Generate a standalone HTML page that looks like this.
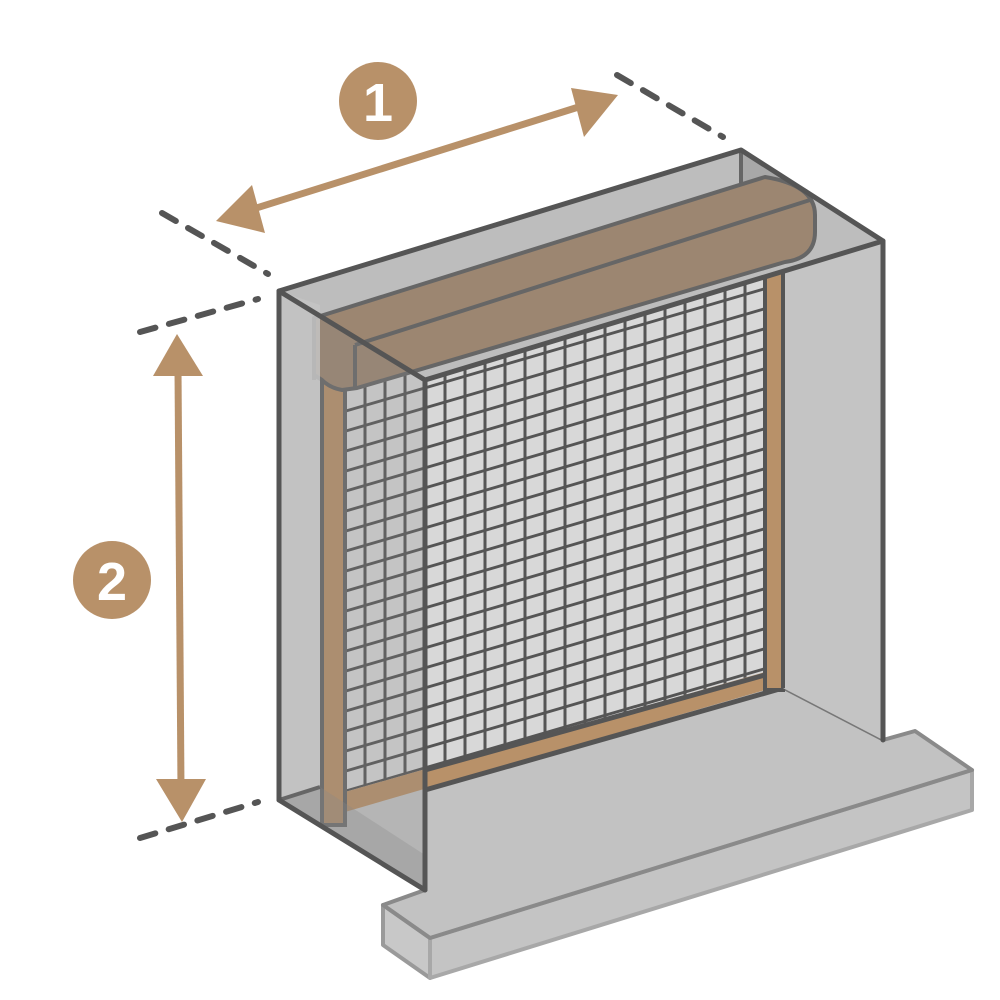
<!DOCTYPE html>
<html><head><meta charset="utf-8"><style>html,body{margin:0;padding:0;background:#fff}svg{display:block}</style></head>
<body>
<svg width="1000" height="1000" viewBox="0 0 1000 1000" xmlns="http://www.w3.org/2000/svg">
<defs>
<clipPath id="gc"><polygon points="345,392 765,270 765,672 345,792"/></clipPath>
</defs>
<!-- dashed guides -->
<g stroke="#555" stroke-width="6" stroke-linecap="round" stroke-dasharray="16,14" fill="none">
<line x1="162" y1="213" x2="268" y2="274"/>
<line x1="617" y1="75" x2="723" y2="137"/>
<line x1="140" y1="332" x2="258" y2="299"/>
<line x1="140" y1="838" x2="258" y2="802"/>
</g>
<!-- arrow 1 -->
<line x1="250" y1="210" x2="585" y2="105" stroke="#b89169" stroke-width="7"/>
<polygon points="216,221 252,185 265,233" fill="#b89169"/>
<polygon points="618,95 571,88 584,137" fill="#b89169"/>
<circle cx="378" cy="101" r="39" fill="#b89169"/>
<text x="378" y="121" font-family="Liberation Sans, sans-serif" font-size="54" font-weight="bold" fill="#fff" text-anchor="middle">1</text>
<!-- arrow 2 -->
<line x1="178" y1="370" x2="181" y2="790" stroke="#b89169" stroke-width="7"/>
<polygon points="177,334 153,376 203,376" fill="#b89169"/>
<polygon points="182,822 156,779 206,779" fill="#b89169"/>
<circle cx="112" cy="580" r="39" fill="#b89169"/>
<text x="112" y="600" font-family="Liberation Sans, sans-serif" font-size="54" font-weight="bold" fill="#fff" text-anchor="middle">2</text>

<!-- back / interior -->
<polygon points="279,291 741,150 883,241 883,740 783,688 425,890 279,800" fill="#c4c4c4"/>
<!-- floor + sill -->
<polygon points="425,785 783,688 883,740 915,731 972,770 430,938 383,905 425,892" fill="#c2c2c2"/>
<polygon points="383,905 430,938 430,978 383,945" fill="#c8c8c8" stroke="#9a9a9a" stroke-width="4" stroke-linejoin="round"/>
<polygon points="430,938 972,770 972,810 430,978" fill="#c4c4c4" stroke="#a8a8a8" stroke-width="4" stroke-linejoin="round"/>
<polyline points="883,740 915,731 972,770 430,938 383,905 425,890" fill="none" stroke="#8a8a8a" stroke-width="4" stroke-linejoin="round"/>
<line x1="783" y1="688" x2="883" y2="740" stroke="#777" stroke-width="3"/>

<!-- grid -->
<g clip-path="url(#gc)">
<rect x="340" y="260" width="430" height="540" fill="#d8d8d8"/>
<g transform="matrix(1,-0.292,0,1,0,0)" stroke="#555" stroke-width="3">
<g id="h">
<line x1="340" y1="512" x2="770" y2="512"/><line x1="340" y1="532" x2="770" y2="532"/><line x1="340" y1="552" x2="770" y2="552"/><line x1="340" y1="572" x2="770" y2="572"/><line x1="340" y1="592" x2="770" y2="592"/><line x1="340" y1="612" x2="770" y2="612"/><line x1="340" y1="632" x2="770" y2="632"/><line x1="340" y1="652" x2="770" y2="652"/><line x1="340" y1="672" x2="770" y2="672"/><line x1="340" y1="692" x2="770" y2="692"/><line x1="340" y1="712" x2="770" y2="712"/><line x1="340" y1="732" x2="770" y2="732"/><line x1="340" y1="752" x2="770" y2="752"/><line x1="340" y1="772" x2="770" y2="772"/><line x1="340" y1="792" x2="770" y2="792"/><line x1="340" y1="812" x2="770" y2="812"/><line x1="340" y1="832" x2="770" y2="832"/><line x1="340" y1="852" x2="770" y2="852"/><line x1="340" y1="872" x2="770" y2="872"/><line x1="340" y1="892" x2="770" y2="892"/>
</g>
</g>
<g stroke="#555" stroke-width="3">
<line x1="365" y1="250" x2="365" y2="820"/><line x1="385" y1="250" x2="385" y2="820"/><line x1="405" y1="250" x2="405" y2="820"/><line x1="425" y1="250" x2="425" y2="820"/><line x1="445" y1="250" x2="445" y2="820"/><line x1="465" y1="250" x2="465" y2="820"/><line x1="485" y1="250" x2="485" y2="820"/><line x1="505" y1="250" x2="505" y2="820"/><line x1="525" y1="250" x2="525" y2="820"/><line x1="545" y1="250" x2="545" y2="820"/><line x1="565" y1="250" x2="565" y2="820"/><line x1="585" y1="250" x2="585" y2="820"/><line x1="605" y1="250" x2="605" y2="820"/><line x1="625" y1="250" x2="625" y2="820"/><line x1="645" y1="250" x2="645" y2="820"/><line x1="665" y1="250" x2="665" y2="820"/><line x1="685" y1="250" x2="685" y2="820"/><line x1="705" y1="250" x2="705" y2="820"/><line x1="725" y1="250" x2="725" y2="820"/><line x1="745" y1="250" x2="745" y2="820"/>
</g>
</g>
<!-- rails -->
<polygon points="345,792 765,672 765,690 345,812" fill="#b89169"/>
<line x1="425" y1="770" x2="783" y2="670" stroke="#555" stroke-width="5"/>
<line x1="425" y1="790" x2="783" y2="688" stroke="#555" stroke-width="5"/>
<rect x="765" y="265" width="18" height="425" fill="#b89169" stroke="#555" stroke-width="4"/>
<rect x="322" y="380" width="23" height="445" fill="#b89169" stroke="#666" stroke-width="4"/>
<line x1="765" y1="270" x2="765" y2="672" stroke="#555" stroke-width="4"/>

<!-- right panel -->
<polygon points="783,262 883,241 883,740 783,688" fill="#c4c4c4"/>
<line x1="783" y1="262" x2="783" y2="688" stroke="#555" stroke-width="4"/>

<!-- top back strip -->
<polygon points="279,291 741,150 883,241 425,380" fill="#bdbdbd"/>
<polygon points="741,150 808,190 808,240 741,205" fill="#a8a8a8"/>
<line x1="741" y1="150" x2="741" y2="185" stroke="#666" stroke-width="4"/>
<!-- roller box -->
<path d="M314,318 L765,177 Q815,185 815,215 L815,232 Q815,258 785,262 L357,388 L342,390 Q330,388 322,380 L314,375 Z" fill="#9c8671" stroke="#666" stroke-width="4" stroke-linejoin="round"/>
<line x1="355" y1="345" x2="810" y2="200" stroke="#666" stroke-width="4"/>
<line x1="355" y1="345" x2="355" y2="388" stroke="#666" stroke-width="4"/>
<line x1="314" y1="318" x2="314" y2="380" stroke="#666" stroke-width="4"/>

<!-- left side panel translucent -->
<polygon points="279,291 425,380 425,890 279,800" fill="#888" fill-opacity="0.25"/>
<polygon points="279,800 320,787 425,855 425,890" fill="#888" fill-opacity="0.3"/>
<polygon points="279,291 320,305 320,787 279,800" fill="#c4c4c4" fill-opacity="0.85"/>
<line x1="279" y1="800" x2="320" y2="787" stroke="#666" stroke-width="4"/>

<!-- outer frame lines -->
<g fill="none" stroke="#555" stroke-width="5" stroke-linejoin="round" stroke-linecap="round">
<polyline points="279,800 279,291 741,150 883,241 883,740"/>
<polyline points="279,291 425,380 883,241"/>
<line x1="425" y1="380" x2="425" y2="890"/>
<line x1="279" y1="800" x2="425" y2="890"/>
</g>
</svg>
</body></html>
